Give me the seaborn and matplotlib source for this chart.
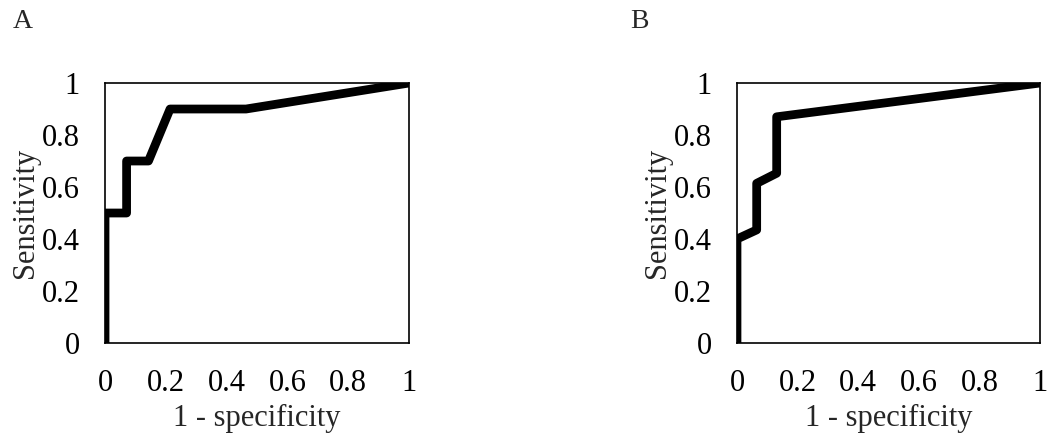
import numpy as np
import pandas as pd
import matplotlib
matplotlib.use('Agg')
import matplotlib.pyplot as plt
import seaborn as sns

# ROC curve points
fpr_a = [0.0, 0.0, 0.071, 0.071, 0.143, 0.214, 0.464, 1.0]
tpr_a = [0.0, 0.5, 0.5, 0.7, 0.7, 0.9, 0.9, 1.0]

fpr_b = [0.0, 0.0, 0.065, 0.065, 0.131, 0.131, 1.0]
tpr_b = [0.0, 0.40, 0.435, 0.614, 0.653, 0.870, 1.0]

ticks = [0, 0.2, 0.4, 0.6, 0.8, 1]
tick_labels = ['0', '0.2', '0.4', '0.6', '0.8', '1']
panel_names = ['A', 'B']

sns.set_style('white')
plt.rcParams['font.family'] = ['Liberation Serif', 'DejaVu Serif']
plt.rcParams['font.size'] = 22

fig = plt.figure(figsize=(10.47, 4.36), dpi=100)
ax_a = fig.add_axes([0.1003, 0.2133, 0.2903, 0.5963])
ax_b = fig.add_axes([0.7039, 0.2133, 0.2894, 0.5963])

panels = [(ax_a, fpr_a, tpr_a), (ax_b, fpr_b, tpr_b)]
for ax, fpr, tpr in panels:
    df = pd.DataFrame({'fpr': fpr, 'tpr': tpr})
    sns.lineplot(data=df, x='fpr', y='tpr', sort=False, estimator=None,
                 color='black', linewidth=6.3, ax=ax)
    ax.set_xlim(0, 1)
    ax.set_ylim(0, 1)
    ax.set_xticks(ticks)
    ax.set_xticklabels(tick_labels)
    ax.set_yticks(ticks)
    ax.set_yticklabels(tick_labels)
    for s in ax.spines.values():
        s.set_visible(True)
        s.set_color('black')
        s.set_linewidth(1.2)
    ax.tick_params(axis='both', direction='out', length=7, width=1.2,
                   pad=11, colors='black', labelsize=22)
    ax.tick_params(axis='x', pad=12)
    ax.set_xlabel('1 - specificity', fontsize=22, labelpad=4)
    ax.set_ylabel('Sensitivity', fontsize=22)
    ax.yaxis.set_label_coords(-0.215, 0.5)

fig.text(0.012, 0.935, panel_names[0], fontsize=20, ha='left', va='baseline')
fig.text(0.602, 0.935, panel_names[1], fontsize=20, ha='left', va='baseline')

plt.savefig('out.png', dpi=100)
